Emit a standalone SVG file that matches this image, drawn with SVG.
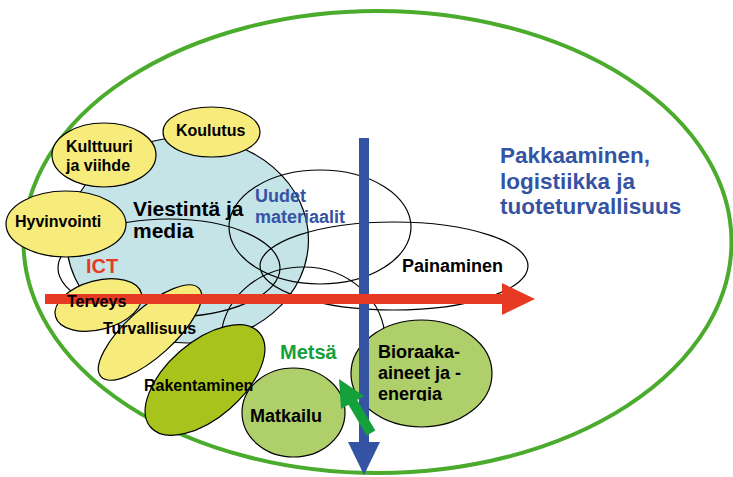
<svg xmlns="http://www.w3.org/2000/svg" width="733" height="477" viewBox="0 0 733 477">
<style>
  .ln { fill: none; stroke: #000; stroke-width: 1.2; }
  .yel { fill: #f7ec7b; stroke: #000; stroke-width: 1.2; }
  .lg { fill: #afcf6b; stroke: #000; stroke-width: 1.2; }
  .dg { fill: #a8c41c; stroke: #000; stroke-width: 1.2; }
  .t { font-family: "Liberation Sans", Arial, sans-serif; font-weight: bold; fill: #000; }
  .s16 { font-size: 16px; }
  .s18 { font-size: 18px; }
  .blue { fill: #3553a3; }
</style>
<defs>
  <clipPath id="clipEnergia"><rect x="370" y="380" width="120" height="21"/></clipPath>
</defs>

<g id="node-metsa-area">
  <ellipse cx="377.5" cy="242" rx="354" ry="231" fill="#fff" stroke="#4aab2c" stroke-width="4"/>
</g>

<g id="node-viestinta">
  <ellipse cx="187.5" cy="240" rx="121" ry="103" fill="#c5e4e8" stroke="#000" stroke-width="1.2"/>
</g>

<g id="node-ict">
  <ellipse class="ln" cx="169" cy="268" rx="111" ry="49"/>
</g>
<g id="node-uudet">
  <ellipse class="ln" cx="320" cy="227" rx="91" ry="57"/>
</g>
<g id="node-painaminen">
  <ellipse class="ln" cx="394" cy="266" rx="134" ry="44"/>
</g>
<g id="node-metsa">
  <ellipse class="ln" cx="303" cy="340" rx="82" ry="73"/>
</g>

<g id="node-koulutus">
  <ellipse class="yel" cx="211.5" cy="132" rx="48.5" ry="25"/>
</g>
<g id="node-kulttuuri">
  <ellipse class="yel" cx="104" cy="155" rx="52" ry="32"/>
</g>
<g id="node-hyvinvointi">
  <ellipse class="yel" cx="66" cy="224" rx="60" ry="33"/>
</g>
<g id="node-terveys">
  <ellipse class="yel" cx="98.5" cy="305" rx="44.5" ry="24.5" transform="rotate(-15 98.5 305)"/>
</g>
<g id="node-turvallisuus">
  <ellipse class="yel" cx="150" cy="332.5" rx="66" ry="24" transform="rotate(-42 150 332.5)"/>
</g>
<g id="node-rakentaminen">
  <ellipse class="dg" cx="205" cy="380" rx="72" ry="38" transform="rotate(-41 205 380)"/>
</g>
<g id="node-matkailu">
  <ellipse class="lg" cx="293.5" cy="412.5" rx="51.5" ry="44.5"/>
</g>
<g id="node-bioraaka">
  <ellipse class="lg" cx="421.5" cy="373.5" rx="70.5" ry="53.5"/>
</g>

<g id="connectors">
  <g id="arrow-vertical" fill="#3553a3">
    <rect x="359" y="138" width="10" height="305"/>
    <polygon points="348,442 380,442 364,475"/>
  </g>
  <g id="arrow-ict" fill="#e63a22">
    <rect x="45" y="294" width="458" height="10"/>
    <polygon points="502,283 535,299 502,315"/>
  </g>
  <g id="arrow-metsa" fill="#14a03a">
    <line x1="371" y1="433" x2="352" y2="401" stroke="#14a03a" stroke-width="10"/>
    <polygon points="339,379 364,396 341,409"/>
  </g>
</g>

<g id="labels">
  <text class="t s16" x="176" y="136">Koulutus</text>
  <text class="t s16" x="66" y="152">Kulttuuri</text>
  <text class="t s16" x="66" y="171">ja viihde</text>
  <text class="t s16" x="15" y="227">Hyvinvointi</text>
  <text class="t" x="133" y="216" font-size="21">Viestintä ja</text>
  <text class="t" x="133" y="238" font-size="21">media</text>
  <text class="t" x="86" y="273" font-size="20" style="fill:#e63a22">ICT</text>
  <text class="t s18 blue" x="255" y="202">Uudet</text>
  <text class="t s18 blue" x="255" y="223">materiaalit</text>
  <text class="t s18" x="402" y="272">Painaminen</text>
  <text class="t blue" x="500" y="163" font-size="22.5">Pakkaaminen,</text>
  <text class="t blue" x="500" y="189" font-size="22.5">logistiikka ja</text>
  <text class="t blue" x="500" y="214" font-size="22.5">tuoteturvallisuus</text>
  <text class="t s16" x="67" y="307">Terveys</text>
  <text class="t s16" x="103" y="334">Turvallisuus</text>
  <text class="t s16" x="144" y="391">Rakentaminen</text>
  <text class="t s18" x="250" y="422">Matkailu</text>
  <text class="t" x="280" y="359" font-size="20" style="fill:#14a03a">Metsä</text>
  <text class="t s18" x="378" y="358">Bioraaka-</text>
  <text class="t s18" x="378" y="379">aineet ja -</text>
  <text class="t s18" x="378" y="400" clip-path="url(#clipEnergia)">energia</text>
</g>
</svg>
